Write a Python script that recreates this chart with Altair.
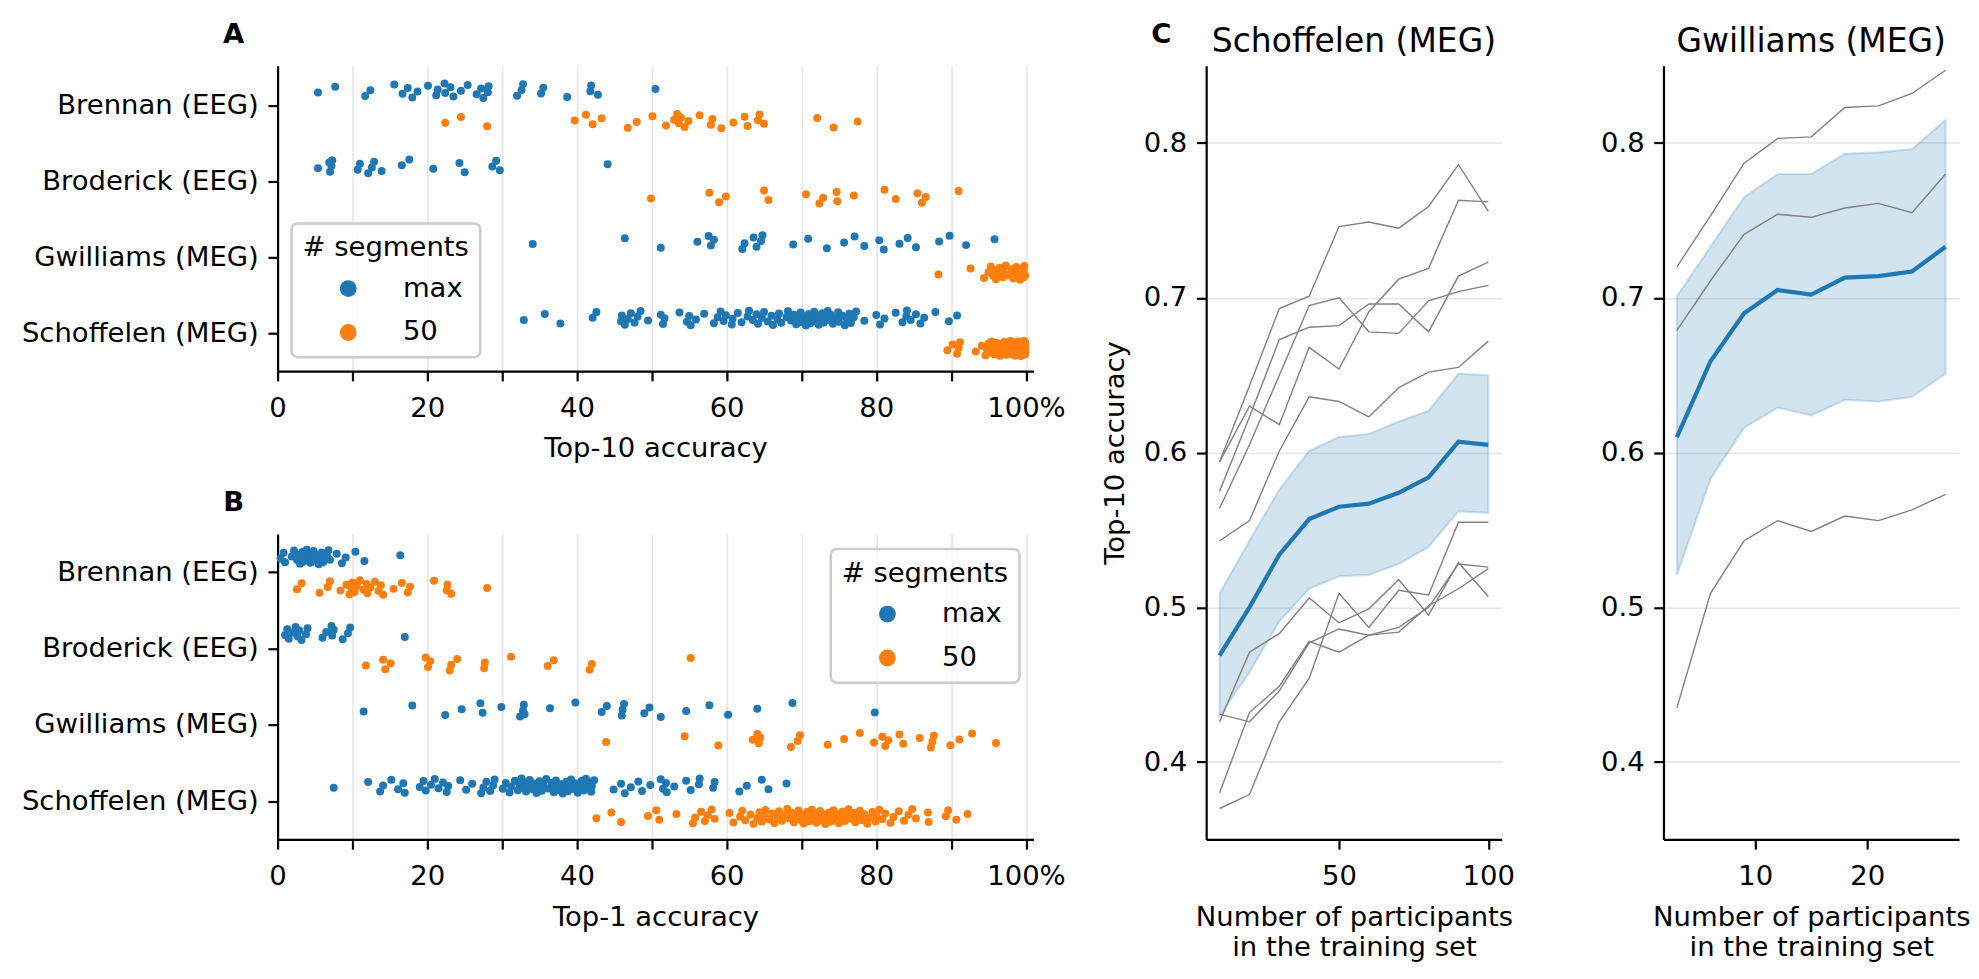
import json
import altair as alt
import pandas as pd

FONT = "DejaVu Sans"
BLUE = "#1f77b4"
ORANGE = "#ff7f0e"
GREY = "#808080"

DATASETS = ["Brennan (EEG)", "Broderick (EEG)", "Gwilliams (MEG)", "Schoffelen (MEG)"]
SEGMENTS = ["max", "50"]

# ---------------- Panel A : Top-10 accuracy (%) ----------------
a_brennan_max = [5.4, 7.7, 11.7, 12.4, 15.6, 16.7, 17.4, 18.0, 18.7, 20.1, 21.2, 21.4, 22.3, 22.4, 23.1, 23.5,
                 24.5, 25.4, 26.6, 27.2, 27.5, 28.1, 28.2, 32.0, 32.6, 32.8, 35.2, 35.5, 38.7, 41.8, 41.9, 42.8, 50.5]
a_brennan_50 = [22.4, 24.5, 28.0, 39.7, 41.2, 42.1, 43.3, 46.8, 48.0, 50.1, 51.9, 53.0, 53.4, 53.6, 53.9, 54.4,
                54.9, 56.4, 57.9, 58.1, 59.3, 60.9, 62.4, 62.8, 64.2, 64.4, 65.0, 72.1, 74.3, 77.5]
a_broderick_max = [5.4, 6.9, 7.0, 7.2, 7.3, 10.7, 11.0, 12.1, 12.6, 12.9, 13.9, 16.6, 17.6, 20.8, 24.3, 25.0,
                   28.7, 29.2, 29.7, 44.1]
a_broderick_50 = [49.9, 57.7, 59.0, 59.9, 65.0, 65.6, 70.6, 72.4, 72.9, 74.7, 74.8, 77.0, 81.1, 82.6, 85.5, 86.1,
                  86.6, 91.0]
a_gwilliams_max = [34.1, 46.4, 51.2, 56.1, 57.6, 57.9, 58.3, 62.1, 62.4, 63.6, 64.0, 64.6, 64.8, 68.9, 70.9, 73.4,
                   75.7, 77.1, 78.4, 80.4, 81.0, 83.1, 84.2, 85.3, 88.4, 89.8, 92.0, 95.8]
a_gwilliams_50 = [88.3, 92.6, 94.4, 95.0, 95.3, 95.6, 95.8, 96.0, 96.2, 96.5, 96.9, 97.0, 97.3, 97.7, 98.1, 98.3,
                  98.5, 98.7, 99.0, 99.1, 99.2, 99.4, 99.5, 99.6, 99.7, 99.8, 99.9]
a_schoffelen_max = [32.9, 35.7, 37.8, 42.1, 42.6, 45.9, 46.0, 46.4, 46.8, 47.2, 47.7, 48.1, 48.5, 49.5, 51.2, 51.5,
                    51.7, 53.7, 54.7, 55.0, 55.2, 55.9, 57.0, 58.3, 58.8, 59.2, 59.6, 59.9, 60.7, 60.8, 61.5, 62.0,
                    62.8, 63.0, 63.5, 64.0, 64.2, 64.7, 65.0, 65.5, 66.0, 66.2, 66.8, 67.0, 67.3, 68.0, 68.2, 68.6,
                    69.0, 69.3, 69.5, 69.9, 70.0, 70.4, 70.6, 70.8, 71.0, 71.2, 71.5, 71.7, 72.0, 72.1, 72.3, 72.5,
                    72.8, 73.0, 73.3, 73.5, 73.7, 73.9, 74.2, 74.6, 74.9, 75.0, 75.5, 75.8, 76.1, 76.4, 76.6, 77.0,
                    77.3, 78.4, 80.0, 80.5, 81.1, 82.6, 83.5, 84.0, 84.1, 84.6, 85.3, 85.9, 86.4, 87.9, 89.7, 90.8]
a_schoffelen_50 = [89.5, 90.2, 90.8, 91.0, 91.2, 93.3, 94.1, 94.6, 94.8, 95.0, 95.1, 95.3, 95.4, 95.6, 95.7, 95.8,
                   96.0, 96.1, 96.2, 96.4, 96.5, 96.6, 96.7, 96.9, 97.0, 97.1, 97.2, 97.3, 97.4, 97.5, 97.6, 97.7,
                   97.8, 97.9, 98.0, 98.0, 98.1, 98.2, 98.3, 98.3, 98.4, 98.5, 98.6, 98.6, 98.7, 98.8, 98.9, 98.9,
                   99.0, 99.0, 99.1, 99.1, 99.2, 99.2, 99.3, 99.3, 99.4, 99.4, 99.5, 99.5, 99.5, 99.6, 99.6, 99.6,
                   99.7, 99.7, 99.7, 99.8, 99.8, 99.8, 99.9, 99.9, 99.9, 99.9, 99.0, 98.5, 97.5, 96.8, 96.3, 95.9,
                   99.8, 99.6, 99.3, 98.8, 98.2, 97.9, 97.0, 99.9, 99.7, 99.4, 98.9, 99.5, 99.2, 99.6, 96.6, 95.5]

# ---------------- Panel B : Top-1 accuracy (%) ----------------
b_brennan_max = [0.4, 0.8, 1.0, 1.9, 2.2, 2.6, 2.8, 3.0, 3.2, 3.3, 3.5, 3.7, 3.9, 4.1, 4.2, 4.4, 4.6, 4.8, 5.0,
                 5.2, 5.5, 5.7, 5.9, 6.1, 6.6, 6.8, 7.0, 7.9, 8.6, 9.1, 10.4, 11.6, 16.4]
b_brennan_50 = [2.6, 3.2, 5.6, 6.7, 7.0, 8.4, 9.2, 9.6, 9.9, 10.0, 10.3, 10.6, 11.0, 11.5, 11.9, 12.0, 12.4, 13.0,
                13.5, 13.8, 14.1, 15.5, 16.6, 17.4, 17.7, 20.9, 22.6, 22.7, 23.2, 28.0]
b_broderick_max = [1.0, 1.3, 1.5, 2.0, 2.4, 2.7, 2.9, 3.2, 3.8, 4.0, 6.0, 6.5, 7.2, 7.3, 7.5, 8.7, 9.4, 9.7, 17.0]
b_broderick_50 = [11.8, 14.1, 14.4, 15.1, 19.8, 20.1, 20.4, 23.0, 23.2, 24.0, 27.6, 27.7, 31.2, 36.1, 36.9, 41.7,
                  42.0, 55.2]
b_gwilliams_max = [11.5, 18.0, 22.4, 24.6, 27.1, 27.4, 29.9, 32.4, 32.8, 32.9, 33.0, 36.4, 39.8, 43.3, 44.0, 46.0,
                   46.1, 46.3, 49.0, 49.7, 51.2, 54.6, 57.7, 60.2, 64.1, 68.8, 79.8]
b_gwilliams_50 = [43.9, 54.4, 58.9, 63.5, 64.1, 64.3, 64.5, 68.6, 69.5, 69.8, 73.5, 75.7, 77.8, 79.7, 80.8, 81.2,
                  81.6, 83.1, 83.6, 85.8, 87.3, 87.5, 87.7, 89.9, 91.1, 92.8, 96.0]
b_schoffelen_max = [7.5, 12.1, 13.7, 14.1, 15.2, 16.1, 16.8, 17.0, 19.0, 19.5, 19.8, 20.5, 21.0, 21.5, 22.1, 22.6,
                    22.8, 24.4, 25.2, 26.0, 27.2, 27.5, 27.9, 28.4, 28.8, 29.0, 30.1, 30.5, 31.0, 31.2, 31.7, 32.1,
                    32.3, 32.6, 32.8, 33.0, 33.2, 33.5, 33.7, 34.1, 34.3, 34.6, 34.9, 35.0, 35.3, 35.5, 35.9, 36.1,
                    36.6, 36.9, 37.0, 37.2, 37.5, 37.9, 38.1, 38.4, 38.6, 38.8, 39.0, 39.2, 39.5, 39.7, 40.1, 40.3,
                    40.6, 40.9, 41.0, 41.2, 41.5, 41.7, 41.9, 42.0, 42.3, 44.9, 45.9, 46.4, 47.2, 48.2, 48.7, 49.8,
                    51.2, 51.5, 51.9, 52.0, 53.0, 54.6, 55.2, 56.3, 56.4, 58.2, 58.4, 61.7, 62.7, 64.7, 65.6, 68.0]
b_schoffelen_50 = [42.6, 44.6, 45.9, 49.5, 50.6, 51.0, 53.3, 55.5, 55.8, 56.6, 57.1, 57.5, 58.0, 58.4, 60.4, 60.9,
                   61.8, 62.1, 62.5, 63.2, 63.6, 64.1, 64.4, 64.7, 65.0, 65.2, 65.7, 66.1, 66.4, 66.8, 67.0, 67.4,
                   67.8, 68.1, 68.4, 68.7, 69.0, 69.3, 69.6, 69.9, 70.0, 70.3, 70.6, 70.8, 71.0, 71.2, 71.4, 71.6,
                   71.9, 72.0, 72.3, 72.5, 72.8, 73.0, 73.2, 73.4, 73.7, 73.9, 74.1, 74.3, 74.6, 74.8, 75.0, 75.2,
                   75.5, 75.8, 76.1, 76.3, 76.6, 77.0, 77.2, 77.5, 77.8, 78.1, 78.4, 78.8, 79.0, 79.5, 79.9, 80.0,
                   80.4, 80.8, 81.2, 81.9, 82.3, 83.0, 83.7, 84.3, 84.8, 85.3, 86.9, 87.0, 89.3, 89.6, 90.7, 92.2]

# ---------------- Panel C : learning curves ----------------
sch_n = [10, 20, 30, 40, 50, 60, 70, 80, 90, 100]
sch_subjects = [
    [0.594, 0.643, 0.693, 0.701, 0.746, 0.749, 0.745, 0.759, 0.786, 0.756],
    [0.594, 0.630, 0.618, 0.668, 0.654, 0.691, 0.712, 0.719, 0.763, 0.762],
    [0.575, 0.623, 0.673, 0.681, 0.682, 0.696, 0.696, 0.678, 0.714, 0.723],
    [0.564, 0.605, 0.650, 0.695, 0.700, 0.678, 0.677, 0.698, 0.704, 0.708],
    [0.543, 0.556, 0.601, 0.636, 0.633, 0.623, 0.642, 0.652, 0.655, 0.672],
    [0.426, 0.471, 0.483, 0.506, 0.490, 0.499, 0.518, 0.495, 0.529, 0.507],
    [0.431, 0.426, 0.446, 0.477, 0.486, 0.482, 0.487, 0.500, 0.528, 0.526],
    [0.380, 0.432, 0.449, 0.478, 0.471, 0.482, 0.484, 0.501, 0.512, 0.525],
    [0.370, 0.379, 0.426, 0.454, 0.509, 0.487, 0.511, 0.508, 0.555, 0.555],
]
sch_mean = [0.469, 0.500, 0.534, 0.557, 0.565, 0.567, 0.574, 0.584, 0.607, 0.605]
sch_lo = [0.430, 0.458, 0.491, 0.512, 0.520, 0.521, 0.528, 0.539, 0.562, 0.561]
sch_hi = [0.509, 0.543, 0.576, 0.601, 0.610, 0.612, 0.620, 0.627, 0.651, 0.650]

gw_n = [3, 6, 9, 12, 15, 18, 21, 24, 27]
gw_subjects = [
    [0.720, 0.753, 0.787, 0.803, 0.804, 0.823, 0.824, 0.832, 0.847],
    [0.679, 0.711, 0.741, 0.754, 0.752, 0.758, 0.761, 0.755, 0.780],
    [0.435, 0.509, 0.543, 0.556, 0.549, 0.559, 0.556, 0.563, 0.573],
]
gw_mean = [0.610, 0.659, 0.690, 0.705, 0.702, 0.713, 0.714, 0.717, 0.733]
gw_lo = [0.521, 0.583, 0.616, 0.629, 0.624, 0.634, 0.633, 0.636, 0.651]
gw_hi = [0.701, 0.733, 0.765, 0.780, 0.780, 0.793, 0.794, 0.796, 0.815]

FS = 27.5
TITLE_FS = 33


def strip_df(series):
    rows = []
    for ds, seg, vals in series:
        for v in vals:
            rows.append({"dataset": ds, "seg": seg, "value": v})
    return pd.DataFrame(rows)


dfA = strip_df([
    (DATASETS[0], "max", a_brennan_max), (DATASETS[0], "50", a_brennan_50),
    (DATASETS[1], "max", a_broderick_max), (DATASETS[1], "50", a_broderick_50),
    (DATASETS[2], "max", a_gwilliams_max), (DATASETS[2], "50", a_gwilliams_50),
    (DATASETS[3], "max", a_schoffelen_max), (DATASETS[3], "50", a_schoffelen_50),
])
dfB = strip_df([
    (DATASETS[0], "max", b_brennan_max), (DATASETS[0], "50", b_brennan_50),
    (DATASETS[1], "max", b_broderick_max), (DATASETS[1], "50", b_broderick_50),
    (DATASETS[2], "max", b_gwilliams_max), (DATASETS[2], "50", b_gwilliams_50),
    (DATASETS[3], "max", b_schoffelen_max), (DATASETS[3], "50", b_schoffelen_50),
])

DS_JS = json.dumps(DATASETS)


def letter_layer(letter, x, y, opacity=1.0):
    return alt.Chart(pd.DataFrame({"letter": [letter]})).mark_text(
        font=FONT, fontSize=FS, fontWeight="bold", align="center", baseline="alphabetic",
        color="black", opacity=opacity,
    ).encode(text="letter:N", x=alt.value(x), y=alt.value(y))


def strip_chart(df, xtitle, letter, lx, ly, ydom):
    pts = alt.Chart(df).transform_window(
        rn="row_number()", groupby=["dataset", "seg"]
    ).transform_calculate(
        ypos=f"indexof({DS_JS}, datum.dataset) + (datum.seg == 'max' ? -0.2 : 0.2)"
             f" + ((datum.rn * 0.6180339887) % 1 - 0.5) * 0.2"
    ).mark_circle(size=64, opacity=1).encode(
        x=alt.X("value:Q", scale=alt.Scale(domain=[0, 101], nice=False, zero=False),
                axis=alt.Axis(values=list(range(0, 101, 10)),
                              labelExpr="datum.value % 20 == 0 ? (datum.value == 100 ? '100%' : datum.label) : ''",
                              title=xtitle, grid=True)),
        y=alt.Y("ypos:Q", scale=alt.Scale(domain=ydom, reverse=True, nice=False, zero=False),
                axis=alt.Axis(values=[0, 1, 2, 3], labelExpr=f"{DS_JS}[datum.value]", title=None, grid=False,
                              labelLimit=500)),
        color=alt.Color("seg:N", scale=alt.Scale(domain=SEGMENTS, range=[BLUE, ORANGE]),
                        legend=alt.Legend(
                            title="# segments", orient="none", legendX=lx, legendY=ly, direction="vertical",
                            fillColor="rgba(255,255,255,0.8)", strokeColor="#cccccc", cornerRadius=6,
                            padding=11, symbolType="circle", symbolSize=283, symbolStrokeWidth=0,
                            symbolOpacity=1, symbolOffset=32, labelOffset=41, rowPadding=15, titlePadding=13,
                            titleFontSize=FS, titleFontWeight="normal", labelFontSize=FS,
                            titleColor="black", labelColor="black", titleFont=FONT, labelFont=FONT)),
    )
    return alt.layer(pts, letter_layer(letter, -44, -23)).properties(width=757, height=306)


chartA = strip_chart(dfA, "Top-10 accuracy", "A", 14, 158, [-0.53, 3.5])
chartB = strip_chart(dfB, "Top-1 accuracy", "B", 554, 15, [-0.5, 3.5])


def curve_chart(n_vals, subjects, mean, lo, hi, xdom, xticks, title, ytitle, letter, letter_opacity):
    grey_rows = []
    for i, s in enumerate(subjects):
        for n, v in zip(n_vals, s):
            grey_rows.append({"subject": f"s{i}", "n": n, "acc": v})
    grey_df = pd.DataFrame(grey_rows)
    band_df = pd.DataFrame({"n": n_vals, "mean": mean, "lo": lo, "hi": hi})

    xscale = alt.Scale(domain=xdom, nice=False, zero=False)
    xaxis = alt.Axis(values=xticks, grid=False, title=["Number of participants", "in the training set"],
                     titleLineHeight=30)
    yscale = alt.Scale(domain=[0.35, 0.85], nice=False, zero=False)
    yaxis = alt.Axis(values=[0.4, 0.5, 0.6, 0.7, 0.8], format=".1f", grid=True, title=ytitle)

    band = alt.Chart(band_df).mark_area(
        fill=BLUE, fillOpacity=0.2, stroke=BLUE, strokeOpacity=0.2, strokeWidth=2.2
    ).encode(x=alt.X("n:Q", scale=xscale, axis=xaxis),
             y=alt.Y("lo:Q", scale=yscale, axis=yaxis), y2="hi:Q")
    grey = alt.Chart(grey_df).mark_line(color=GREY, strokeWidth=1.4).encode(
        x=alt.X("n:Q", scale=xscale, axis=xaxis),
        y=alt.Y("acc:Q", scale=yscale, axis=yaxis), detail="subject:N")
    meanl = alt.Chart(band_df).mark_line(color=BLUE, strokeWidth=4.2).encode(
        x=alt.X("n:Q", scale=xscale, axis=xaxis),
        y=alt.Y("mean:Q", scale=yscale, axis=yaxis))
    ttl = alt.Chart(pd.DataFrame({"t": [title]})).mark_text(
        font=FONT, fontSize=TITLE_FS, align="center", baseline="alphabetic", color="black"
    ).encode(text="t:N", x=alt.value(148), y=alt.value(-14))
    return alt.layer(band, grey, meanl, ttl, letter_layer(letter, -45, -23, letter_opacity)).properties(
        width=296, height=775)


chartS = curve_chart(sch_n, sch_subjects, sch_mean, sch_lo, sch_hi, [5.5, 104.5], [50, 100],
                     "Schoffelen (MEG)", "Top-10 accuracy", "C", 1.0)
chartG = curve_chart(gw_n, gw_subjects, gw_mean, gw_lo, gw_hi, [1.8, 28.2], [10, 20],
                     "Gwilliams (MEG)", None, "C", 0.0)

left = alt.vconcat(chartA, chartB, spacing=26).resolve_scale(color="independent").resolve_legend(
    color="independent")
right = alt.hconcat(chartS, chartG, spacing=85)

chart = alt.hconcat(left, right, spacing=36).properties(
    padding={"left": 13, "top": 12, "right": 0, "bottom": 0}
).configure(font=FONT).configure_view(strokeWidth=0).configure_axis(
    domainColor="black", domainWidth=2.2, tickColor="black", tickWidth=2.2, tickSize=9.7,
    labelFontSize=FS, titleFontSize=FS, labelColor="black", titleColor="black",
    titleFontWeight="normal", labelFont=FONT, titleFont=FONT, gridColor="#e6e6e6", gridWidth=1.6,
    labelFlush=False, labelOverlap=False,
).configure_axisX(labelPadding=13.7, titlePadding=13).configure_axisY(labelPadding=9.7, titlePadding=13.4
).configure_legend(strokeWidth=2.5)

chart.save("out.html", embed_options={"renderer": "svg", "actions": False})
